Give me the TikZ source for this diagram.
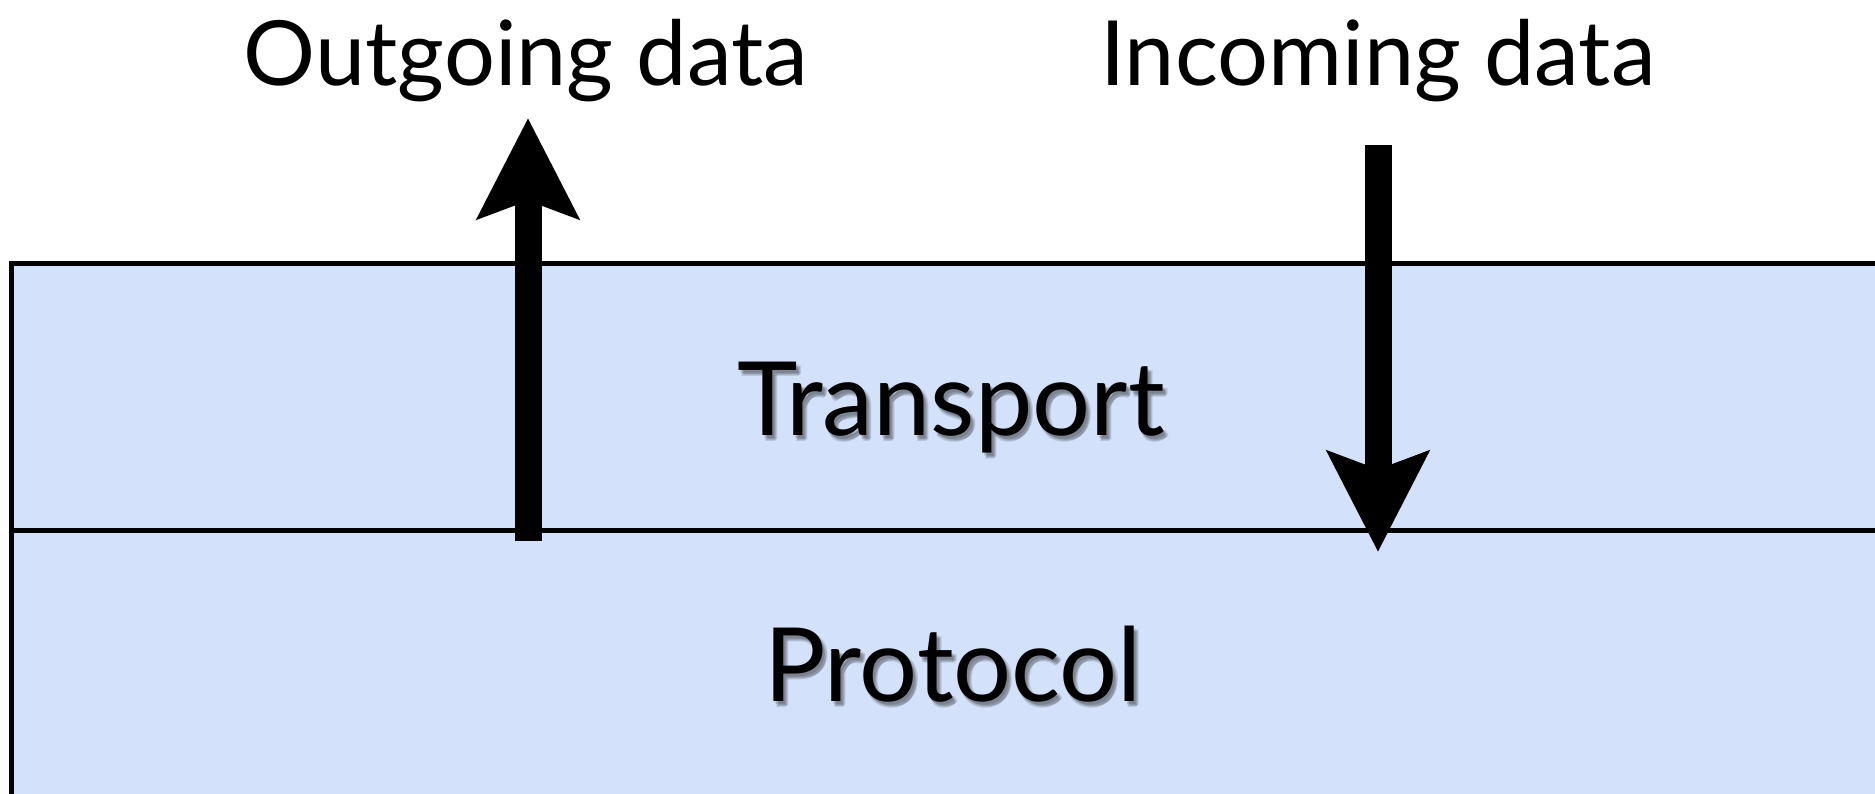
\documentclass[tikz,border=0pt]{standalone}
\usepackage{fontspec}
\setmainfont{Lato}
\usetikzlibrary{arrows.meta}
\definecolor{layerblue}{RGB}{211,225,250}
\tikzset{
  label/.style={anchor=base, inner sep=0pt, font=\fontsize{36}{40}\selectfont},
  layerlabel/.style={anchor=base, inner sep=0pt, font=\fontsize{41}{45}\selectfont},
  shadowtext/.style={layerlabel, text=black, opacity=0.12},
  bigarrow/.style={line width=10.8pt, -{Stealth[length=40pt, width=40pt, inset=7pt]}},
  layerline/.style={line width=2pt, draw=black}
}
\begin{document}
\begin{tikzpicture}[x=0.4pt,y=-0.4pt]
\useasboundingbox (0,0) rectangle (1875,794);
\begin{scope}
\clip (0,0) rectangle (1875,794);
\fill[layerblue] (11,263) rectangle (1890,810);
\draw[layerline] (1890,263) -- (11,263) -- (11,810);
\draw[layerline] (11,530) -- (1890,530);
\end{scope}
% text
\node[label] (out) at (526,85) {Outgoing data};
\node[label] (inc) at (1378,85) {Incoming data};
\foreach \dx/\dy in {2/3,4/5,3/6,5/4} {
  \node[shadowtext] at (951+\dx,435+\dy) {Transport};
  \node[shadowtext] at (953+\dx,701+\dy) {Protocol};
}
\node[layerlabel] (transport) at (951,435) {Transport};
\node[layerlabel] (protocol) at (953,701) {Protocol};
% arrows
\coordinate (outstart) at (528,541);
\coordinate (outend) at (528,118);
\coordinate (instart) at (1378,145);
\coordinate (inend) at (1378,552);
\draw[bigarrow] (outstart) -- (outend);
\draw[bigarrow] (instart) -- (inend);
\end{tikzpicture}
\end{document}
